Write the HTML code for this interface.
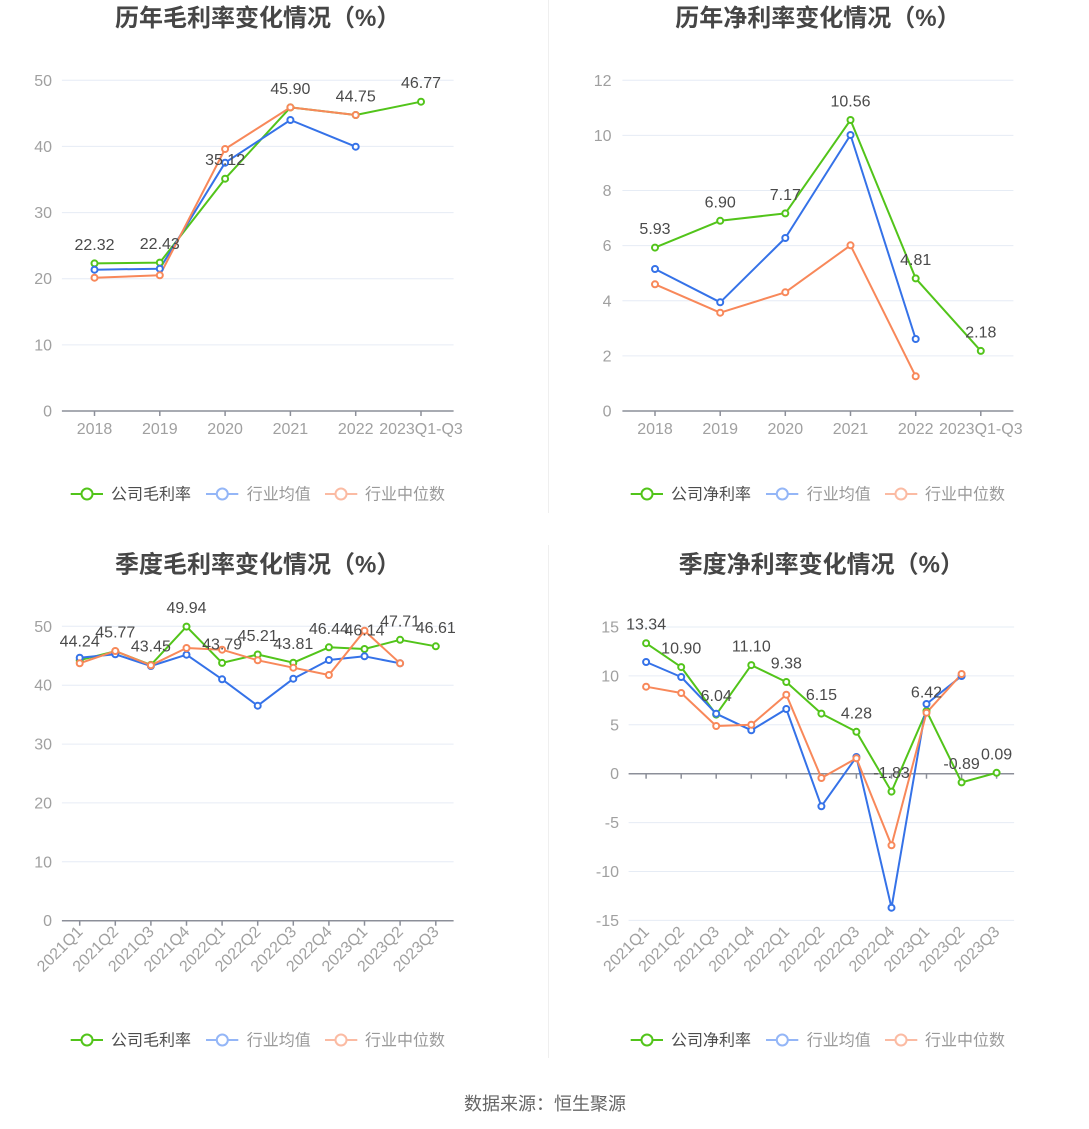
<!DOCTYPE html>
<html><head><meta charset="utf-8"><style>
html,body{margin:0;padding:0;background:#fff;}
svg{display:block;}
text{font-family:"Liberation Sans","Noto Sans CJK SC",sans-serif;}
.t{font-size:24px;font-weight:bold;fill:#464646;text-anchor:middle;}
.yl{font-size:16px;fill:#a0a0a0;text-anchor:end;}
.xl{font-size:16px;fill:#a0a0a0;text-anchor:middle;}
.xr{font-size:16px;fill:#a0a0a0;text-anchor:end;}
.dl{font-size:16px;fill:#4a4a4a;text-anchor:middle;}
.lg{font-size:16px;}
.g{stroke:#e6ecf5;stroke-width:1;}
.ax{stroke:#8c8f99;stroke-width:1.5;}
.sg{fill:none;stroke:#52c41a;stroke-width:2;stroke-linejoin:round;}
.sb{fill:none;stroke:#3572e8;stroke-width:2;stroke-linejoin:round;}
.so{fill:none;stroke:#f8885a;stroke-width:2;stroke-linejoin:round;}
.pg circle{fill:#fff;stroke:#52c41a;stroke-width:2;}
.pb circle{fill:#fff;stroke:#3572e8;stroke-width:2;}
.po circle{fill:#fff;stroke:#f8885a;stroke-width:2;}
</style></head><body>
<svg width="1089" height="1129" viewBox="0 0 1089 1129" xmlns="http://www.w3.org/2000/svg">
<rect width="1089" height="1129" fill="#fff"/>
<line x1="548.5" y1="0" x2="548.5" y2="513" stroke="#efefef" stroke-width="1"/>
<line x1="548.5" y1="545" x2="548.5" y2="1058" stroke="#efefef" stroke-width="1"/>

<!-- ========== TOP LEFT ========== -->
<text class="t" x="257.7" y="26">历年毛利率变化情况（%）</text>
<g>
<line class="g" x1="61.9" y1="80.3" x2="453.6" y2="80.3"/>
<line class="g" x1="61.9" y1="146.4" x2="453.6" y2="146.4"/>
<line class="g" x1="61.9" y1="212.6" x2="453.6" y2="212.6"/>
<line class="g" x1="61.9" y1="278.7" x2="453.6" y2="278.7"/>
<line class="g" x1="61.9" y1="344.9" x2="453.6" y2="344.9"/>
<line class="ax" x1="61.9" y1="411" x2="453.6" y2="411"/>
<g class="ax">
<line x1="94.5" y1="411" x2="94.5" y2="416"/><line x1="159.8" y1="411" x2="159.8" y2="416"/><line x1="225.1" y1="411" x2="225.1" y2="416"/><line x1="290.4" y1="411" x2="290.4" y2="416"/><line x1="355.7" y1="411" x2="355.7" y2="416"/><line x1="421" y1="411" x2="421" y2="416"/>
</g>
<text class="yl" x="52" y="416.5">0</text>
<text class="yl" x="52" y="350.4">10</text>
<text class="yl" x="52" y="284.2">20</text>
<text class="yl" x="52" y="218.1">30</text>
<text class="yl" x="52" y="151.9">40</text>
<text class="yl" x="52" y="85.8">50</text>
<text class="xl" x="94.5" y="434">2018</text>
<text class="xl" x="159.8" y="434">2019</text>
<text class="xl" x="225.1" y="434">2020</text>
<text class="xl" x="290.4" y="434">2021</text>
<text class="xl" x="355.7" y="434">2022</text>
<text class="xl" x="421" y="434">2023Q1-Q3</text>
<polyline class="sg" points="94.5,263.4 159.8,262.6 225.1,178.7 290.4,107.4 355.7,115.0 421.0,101.7"/>
<polyline class="sb" points="94.5,269.7 159.8,268.7 225.1,162.7 290.4,120.0 355.7,146.7"/>
<polyline class="so" points="94.5,277.7 159.8,275.3 225.1,149.0 290.4,107.4 355.7,115.0"/>
<g class="pg"><circle cx="94.5" cy="263.4" r="3"/><circle cx="159.8" cy="262.6" r="3"/><circle cx="225.1" cy="178.7" r="3"/><circle cx="290.4" cy="107.4" r="3"/><circle cx="355.7" cy="115" r="3"/><circle cx="421" cy="101.7" r="3"/></g>
<g class="pb"><circle cx="94.5" cy="269.7" r="3"/><circle cx="159.8" cy="268.7" r="3"/><circle cx="225.1" cy="162.7" r="3"/><circle cx="290.4" cy="120" r="3"/><circle cx="355.7" cy="146.7" r="3"/></g>
<g class="po"><circle cx="94.5" cy="277.7" r="3"/><circle cx="159.8" cy="275.3" r="3"/><circle cx="225.1" cy="149" r="3"/><circle cx="290.4" cy="107.4" r="3"/><circle cx="355.7" cy="115" r="3"/></g>
<text class="dl" x="94.5" y="249.9">22.32</text>
<text class="dl" x="159.8" y="249.1">22.43</text>
<text class="dl" x="225.1" y="165.2">35.12</text>
<text class="dl" x="290.4" y="93.9">45.90</text>
<text class="dl" x="355.7" y="101.5">44.75</text>
<text class="dl" x="421" y="88.2">46.77</text>
<!-- legend -->
<line x1="70.7" y1="494" x2="103" y2="494" stroke="#52c41a" stroke-width="2"/><circle cx="87" cy="494" r="5.5" fill="#fff" stroke="#52c41a" stroke-width="2"/>
<text class="lg" x="111" y="499.5" fill="#4d4d4d">公司毛利率</text>
<line x1="206" y1="494" x2="238.3" y2="494" stroke="#94b6f7" stroke-width="2"/><circle cx="222.3" cy="494" r="5.5" fill="#fff" stroke="#94b6f7" stroke-width="2"/>
<text class="lg" x="246.7" y="499.5" fill="#999">行业均值</text>
<line x1="325" y1="494" x2="357.3" y2="494" stroke="#fbbba3" stroke-width="2"/><circle cx="341" cy="494" r="5.5" fill="#fff" stroke="#fbbba3" stroke-width="2"/>
<text class="lg" x="365" y="499.5" fill="#999">行业中位数</text>
</g>

<!-- ========== TOP RIGHT ========== -->
<text class="t" x="817.9" y="26">历年净利率变化情况（%）</text>
<g>
<line class="g" x1="622.4" y1="80.3" x2="1013.4" y2="80.3"/>
<line class="g" x1="622.4" y1="135.4" x2="1013.4" y2="135.4"/>
<line class="g" x1="622.4" y1="190.5" x2="1013.4" y2="190.5"/>
<line class="g" x1="622.4" y1="245.6" x2="1013.4" y2="245.6"/>
<line class="g" x1="622.4" y1="300.8" x2="1013.4" y2="300.8"/>
<line class="g" x1="622.4" y1="355.9" x2="1013.4" y2="355.9"/>
<line class="ax" x1="622.4" y1="411" x2="1013.4" y2="411"/>
<g class="ax">
<line x1="655" y1="411" x2="655" y2="416"/><line x1="720.2" y1="411" x2="720.2" y2="416"/><line x1="785.3" y1="411" x2="785.3" y2="416"/><line x1="850.5" y1="411" x2="850.5" y2="416"/><line x1="915.7" y1="411" x2="915.7" y2="416"/><line x1="980.8" y1="411" x2="980.8" y2="416"/>
</g>
<text class="yl" x="611.5" y="416.5">0</text>
<text class="yl" x="611.5" y="361.4">2</text>
<text class="yl" x="611.5" y="306.3">4</text>
<text class="yl" x="611.5" y="251.1">6</text>
<text class="yl" x="611.5" y="196">8</text>
<text class="yl" x="611.5" y="140.9">10</text>
<text class="yl" x="611.5" y="85.8">12</text>
<text class="xl" x="655" y="434">2018</text>
<text class="xl" x="720.2" y="434">2019</text>
<text class="xl" x="785.3" y="434">2020</text>
<text class="xl" x="850.5" y="434">2021</text>
<text class="xl" x="915.7" y="434">2022</text>
<text class="xl" x="980.8" y="434">2023Q1-Q3</text>
<polyline class="sg" points="655,247.6 720.2,220.8 785.3,213.4 850.5,120.0 915.7,278.4 980.8,350.9"/>
<polyline class="sb" points="655,269 720.2,302.3 785.3,238 850.5,135 915.7,339"/>
<polyline class="so" points="655,284.3 720.2,312.7 785.3,292.3 850.5,245.3 915.7,376.3"/>
<g class="pg"><circle cx="655" cy="247.6" r="3"/><circle cx="720.2" cy="220.8" r="3"/><circle cx="785.3" cy="213.4" r="3"/><circle cx="850.5" cy="120" r="3"/><circle cx="915.7" cy="278.4" r="3"/><circle cx="980.8" cy="350.9" r="3"/></g>
<g class="pb"><circle cx="655" cy="269" r="3"/><circle cx="720.2" cy="302.3" r="3"/><circle cx="785.3" cy="238" r="3"/><circle cx="850.5" cy="135" r="3"/><circle cx="915.7" cy="339" r="3"/></g>
<g class="po"><circle cx="655" cy="284.3" r="3"/><circle cx="720.2" cy="312.7" r="3"/><circle cx="785.3" cy="292.3" r="3"/><circle cx="850.5" cy="245.3" r="3"/><circle cx="915.7" cy="376.3" r="3"/></g>
<text class="dl" x="655" y="234.1">5.93</text>
<text class="dl" x="720.2" y="207.3">6.90</text>
<text class="dl" x="785.3" y="199.9">7.17</text>
<text class="dl" x="850.5" y="106.5">10.56</text>
<text class="dl" x="915.7" y="264.9">4.81</text>
<text class="dl" x="980.8" y="337.4">2.18</text>
<line x1="630.7" y1="494" x2="663" y2="494" stroke="#52c41a" stroke-width="2"/><circle cx="647" cy="494" r="5.5" fill="#fff" stroke="#52c41a" stroke-width="2"/>
<text class="lg" x="671" y="499.5" fill="#4d4d4d">公司净利率</text>
<line x1="766" y1="494" x2="798.3" y2="494" stroke="#94b6f7" stroke-width="2"/><circle cx="782.3" cy="494" r="5.5" fill="#fff" stroke="#94b6f7" stroke-width="2"/>
<text class="lg" x="806.7" y="499.5" fill="#999">行业均值</text>
<line x1="885" y1="494" x2="917.3" y2="494" stroke="#fbbba3" stroke-width="2"/><circle cx="901" cy="494" r="5.5" fill="#fff" stroke="#fbbba3" stroke-width="2"/>
<text class="lg" x="925" y="499.5" fill="#999">行业中位数</text>
</g>

<!-- ========== BOTTOM LEFT ========== -->
<text class="t" x="257.7" y="572.5">季度毛利率变化情况（%）</text>
<g>
<line class="g" x1="61.9" y1="626.3" x2="453.6" y2="626.3"/>
<line class="g" x1="61.9" y1="685.2" x2="453.6" y2="685.2"/>
<line class="g" x1="61.9" y1="744.1" x2="453.6" y2="744.1"/>
<line class="g" x1="61.9" y1="802.9" x2="453.6" y2="802.9"/>
<line class="g" x1="61.9" y1="861.8" x2="453.6" y2="861.8"/>
<line class="ax" x1="61.9" y1="920.7" x2="453.6" y2="920.7"/>
<g class="ax">
<line x1="79.7" y1="920.7" x2="79.7" y2="925.7"/><line x1="115.3" y1="920.7" x2="115.3" y2="925.7"/><line x1="150.9" y1="920.7" x2="150.9" y2="925.7"/><line x1="186.5" y1="920.7" x2="186.5" y2="925.7"/><line x1="222.1" y1="920.7" x2="222.1" y2="925.7"/><line x1="257.7" y1="920.7" x2="257.7" y2="925.7"/><line x1="293.3" y1="920.7" x2="293.3" y2="925.7"/><line x1="328.9" y1="920.7" x2="328.9" y2="925.7"/><line x1="364.5" y1="920.7" x2="364.5" y2="925.7"/><line x1="400.1" y1="920.7" x2="400.1" y2="925.7"/><line x1="435.8" y1="920.7" x2="435.8" y2="925.7"/>
</g>
<text class="yl" x="52" y="926.2">0</text>
<text class="yl" x="52" y="867.3">10</text>
<text class="yl" x="52" y="808.4">20</text>
<text class="yl" x="52" y="749.6">30</text>
<text class="yl" x="52" y="690.7">40</text>
<text class="yl" x="52" y="631.8">50</text>
<g>
<text class="xr" transform="translate(79.7,928.7) rotate(-45)" dy="0.35em">2021Q1</text>
<text class="xr" transform="translate(115.3,928.7) rotate(-45)" dy="0.35em">2021Q2</text>
<text class="xr" transform="translate(150.9,928.7) rotate(-45)" dy="0.35em">2021Q3</text>
<text class="xr" transform="translate(186.5,928.7) rotate(-45)" dy="0.35em">2021Q4</text>
<text class="xr" transform="translate(222.1,928.7) rotate(-45)" dy="0.35em">2022Q1</text>
<text class="xr" transform="translate(257.7,928.7) rotate(-45)" dy="0.35em">2022Q2</text>
<text class="xr" transform="translate(293.3,928.7) rotate(-45)" dy="0.35em">2022Q3</text>
<text class="xr" transform="translate(328.9,928.7) rotate(-45)" dy="0.35em">2022Q4</text>
<text class="xr" transform="translate(364.5,928.7) rotate(-45)" dy="0.35em">2023Q1</text>
<text class="xr" transform="translate(400.1,928.7) rotate(-45)" dy="0.35em">2023Q2</text>
<text class="xr" transform="translate(435.8,928.7) rotate(-45)" dy="0.35em">2023Q3</text>
</g>
<polyline class="sg" points="79.7,660.2 115.3,651.2 150.9,664.9 186.5,626.6 222.1,662.9 257.7,654.5 293.3,662.7 328.9,647.3 364.5,649.0 400.1,639.8 435.8,646.3"/>
<polyline class="sb" points="79.7,657.7 115.3,654.3 150.9,666 186.5,654.7 222.1,679.3 257.7,705.7 293.3,678.7 328.9,660 364.5,656.3 400.1,663.3"/>
<polyline class="so" points="79.7,663.3 115.3,651 150.9,665.3 186.5,648 222.1,649.7 257.7,660.3 293.3,667.7 328.9,675 364.5,630.7 400.1,663.3"/>
<g class="pg"><circle cx="79.7" cy="660.2" r="3"/><circle cx="115.3" cy="651.2" r="3"/><circle cx="150.9" cy="664.9" r="3"/><circle cx="186.5" cy="626.6" r="3"/><circle cx="222.1" cy="662.9" r="3"/><circle cx="257.7" cy="654.5" r="3"/><circle cx="293.3" cy="662.7" r="3"/><circle cx="328.9" cy="647.3" r="3"/><circle cx="364.5" cy="649" r="3"/><circle cx="400.1" cy="639.8" r="3"/><circle cx="435.8" cy="646.3" r="3"/></g>
<g class="pb"><circle cx="79.7" cy="657.7" r="3"/><circle cx="115.3" cy="654.3" r="3"/><circle cx="150.9" cy="666" r="3"/><circle cx="186.5" cy="654.7" r="3"/><circle cx="222.1" cy="679.3" r="3"/><circle cx="257.7" cy="705.7" r="3"/><circle cx="293.3" cy="678.7" r="3"/><circle cx="328.9" cy="660" r="3"/><circle cx="364.5" cy="656.3" r="3"/><circle cx="400.1" cy="663.3" r="3"/></g>
<g class="po"><circle cx="79.7" cy="663.3" r="3"/><circle cx="115.3" cy="651" r="3"/><circle cx="150.9" cy="665.3" r="3"/><circle cx="186.5" cy="648" r="3"/><circle cx="222.1" cy="649.7" r="3"/><circle cx="257.7" cy="660.3" r="3"/><circle cx="293.3" cy="667.7" r="3"/><circle cx="328.9" cy="675" r="3"/><circle cx="364.5" cy="630.7" r="3"/><circle cx="400.1" cy="663.3" r="3"/></g>
<text class="dl" x="79.7" y="646.7">44.24</text>
<text class="dl" x="115.3" y="637.7">45.77</text>
<text class="dl" x="150.9" y="651.4">43.45</text>
<text class="dl" x="186.5" y="613.1">49.94</text>
<text class="dl" x="222.1" y="649.4">43.79</text>
<text class="dl" x="257.7" y="641">45.21</text>
<text class="dl" x="293.3" y="649.2">43.81</text>
<text class="dl" x="328.9" y="633.8">46.44</text>
<text class="dl" x="364.5" y="635.5">46.14</text>
<text class="dl" x="400.1" y="626.3">47.71</text>
<text class="dl" x="435.8" y="632.8">46.61</text>
<line x1="70.7" y1="1040" x2="103" y2="1040" stroke="#52c41a" stroke-width="2"/><circle cx="87" cy="1040" r="5.5" fill="#fff" stroke="#52c41a" stroke-width="2"/>
<text class="lg" x="111" y="1045.5" fill="#4d4d4d">公司毛利率</text>
<line x1="206" y1="1040" x2="238.3" y2="1040" stroke="#94b6f7" stroke-width="2"/><circle cx="222.3" cy="1040" r="5.5" fill="#fff" stroke="#94b6f7" stroke-width="2"/>
<text class="lg" x="246.7" y="1045.5" fill="#999">行业均值</text>
<line x1="325" y1="1040" x2="357.3" y2="1040" stroke="#fbbba3" stroke-width="2"/><circle cx="341" cy="1040" r="5.5" fill="#fff" stroke="#fbbba3" stroke-width="2"/>
<text class="lg" x="365" y="1045.5" fill="#999">行业中位数</text>
</g>

<!-- ========== BOTTOM RIGHT ========== -->
<text class="t" x="821.3" y="572.5">季度净利率变化情况（%）</text>
<g>
<line class="g" x1="628.6" y1="627.0" x2="1014.1" y2="627.0"/>
<line class="g" x1="628.6" y1="675.9" x2="1014.1" y2="675.9"/>
<line class="g" x1="628.6" y1="724.8" x2="1014.1" y2="724.8"/>
<line class="g" x1="628.6" y1="822.6" x2="1014.1" y2="822.6"/>
<line class="g" x1="628.6" y1="871.5" x2="1014.1" y2="871.5"/>
<line class="g" x1="628.6" y1="920.4" x2="1014.1" y2="920.4"/>
<line class="ax" x1="628.6" y1="773.7" x2="1014.1" y2="773.7"/>
<g class="ax">
<line x1="646.1" y1="773.7" x2="646.1" y2="778.7"/><line x1="681.2" y1="773.7" x2="681.2" y2="778.7"/><line x1="716.2" y1="773.7" x2="716.2" y2="778.7"/><line x1="751.3" y1="773.7" x2="751.3" y2="778.7"/><line x1="786.3" y1="773.7" x2="786.3" y2="778.7"/><line x1="821.4" y1="773.7" x2="821.4" y2="778.7"/><line x1="856.4" y1="773.7" x2="856.4" y2="778.7"/><line x1="891.5" y1="773.7" x2="891.5" y2="778.7"/><line x1="926.5" y1="773.7" x2="926.5" y2="778.7"/><line x1="961.6" y1="773.7" x2="961.6" y2="778.7"/><line x1="996.6" y1="773.7" x2="996.6" y2="778.7"/>
</g>
<text class="yl" x="619" y="632.5">15</text>
<text class="yl" x="619" y="681.4">10</text>
<text class="yl" x="619" y="730.3">5</text>
<text class="yl" x="619" y="779.2">0</text>
<text class="yl" x="619" y="828.1">-5</text>
<text class="yl" x="619" y="877">-10</text>
<text class="yl" x="619" y="925.9">-15</text>
<g>
<text class="xr" transform="translate(646.1,928.7) rotate(-45)" dy="0.35em">2021Q1</text>
<text class="xr" transform="translate(681.2,928.7) rotate(-45)" dy="0.35em">2021Q2</text>
<text class="xr" transform="translate(716.2,928.7) rotate(-45)" dy="0.35em">2021Q3</text>
<text class="xr" transform="translate(751.3,928.7) rotate(-45)" dy="0.35em">2021Q4</text>
<text class="xr" transform="translate(786.3,928.7) rotate(-45)" dy="0.35em">2022Q1</text>
<text class="xr" transform="translate(821.4,928.7) rotate(-45)" dy="0.35em">2022Q2</text>
<text class="xr" transform="translate(856.4,928.7) rotate(-45)" dy="0.35em">2022Q3</text>
<text class="xr" transform="translate(891.5,928.7) rotate(-45)" dy="0.35em">2022Q4</text>
<text class="xr" transform="translate(926.5,928.7) rotate(-45)" dy="0.35em">2023Q1</text>
<text class="xr" transform="translate(961.6,928.7) rotate(-45)" dy="0.35em">2023Q2</text>
<text class="xr" transform="translate(996.6,928.7) rotate(-45)" dy="0.35em">2023Q3</text>
</g>
<polyline class="sg" points="646.1,643.2 681.2,667.1 716.2,714.6 751.3,665.1 786.3,682.0 821.4,713.6 856.4,731.8 891.5,791.6 926.5,710.9 961.6,782.4 996.6,772.8"/>
<polyline class="sb" points="646.1,662 681.2,677 716.2,713.7 751.3,730.3 786.3,709 821.4,806.3 856.4,757 891.5,907.7 926.5,704 961.6,676"/>
<polyline class="so" points="646.1,686.7 681.2,693 716.2,726 751.3,724.7 786.3,694.7 821.4,778 856.4,758.3 891.5,845.3 926.5,712.7 961.6,674"/>
<g class="pg"><circle cx="646.1" cy="643.2" r="3"/><circle cx="681.2" cy="667.1" r="3"/><circle cx="716.2" cy="714.6" r="3"/><circle cx="751.3" cy="665.1" r="3"/><circle cx="786.3" cy="682" r="3"/><circle cx="821.4" cy="713.6" r="3"/><circle cx="856.4" cy="731.8" r="3"/><circle cx="891.5" cy="791.6" r="3"/><circle cx="926.5" cy="710.9" r="3"/><circle cx="961.6" cy="782.4" r="3"/><circle cx="996.6" cy="772.8" r="3"/></g>
<g class="pb"><circle cx="646.1" cy="662" r="3"/><circle cx="681.2" cy="677" r="3"/><circle cx="716.2" cy="713.7" r="3"/><circle cx="751.3" cy="730.3" r="3"/><circle cx="786.3" cy="709" r="3"/><circle cx="821.4" cy="806.3" r="3"/><circle cx="856.4" cy="757" r="3"/><circle cx="891.5" cy="907.7" r="3"/><circle cx="926.5" cy="704" r="3"/><circle cx="961.6" cy="676" r="3"/></g>
<g class="po"><circle cx="646.1" cy="686.7" r="3"/><circle cx="681.2" cy="693" r="3"/><circle cx="716.2" cy="726" r="3"/><circle cx="751.3" cy="724.7" r="3"/><circle cx="786.3" cy="694.7" r="3"/><circle cx="821.4" cy="778" r="3"/><circle cx="856.4" cy="758.3" r="3"/><circle cx="891.5" cy="845.3" r="3"/><circle cx="926.5" cy="712.7" r="3"/><circle cx="961.6" cy="674" r="3"/></g>
<text class="dl" x="646.1" y="629.7">13.34</text>
<text class="dl" x="681.2" y="653.6">10.90</text>
<text class="dl" x="716.2" y="701.1">6.04</text>
<text class="dl" x="751.3" y="651.6">11.10</text>
<text class="dl" x="786.3" y="668.5">9.38</text>
<text class="dl" x="821.4" y="700.1">6.15</text>
<text class="dl" x="856.4" y="718.3">4.28</text>
<text class="dl" x="891.5" y="778.1">-1.83</text>
<text class="dl" x="926.5" y="697.4">6.42</text>
<text class="dl" x="961.6" y="768.9">-0.89</text>
<text class="dl" x="996.6" y="759.3">0.09</text>
<line x1="630.7" y1="1040" x2="663" y2="1040" stroke="#52c41a" stroke-width="2"/><circle cx="647" cy="1040" r="5.5" fill="#fff" stroke="#52c41a" stroke-width="2"/>
<text class="lg" x="671" y="1045.5" fill="#4d4d4d">公司净利率</text>
<line x1="766" y1="1040" x2="798.3" y2="1040" stroke="#94b6f7" stroke-width="2"/><circle cx="782.3" cy="1040" r="5.5" fill="#fff" stroke="#94b6f7" stroke-width="2"/>
<text class="lg" x="806.7" y="1045.5" fill="#999">行业均值</text>
<line x1="885" y1="1040" x2="917.3" y2="1040" stroke="#fbbba3" stroke-width="2"/><circle cx="901" cy="1040" r="5.5" fill="#fff" stroke="#fbbba3" stroke-width="2"/>
<text class="lg" x="925" y="1045.5" fill="#999">行业中位数</text>
</g>

<text x="545" y="1110" style="font-size:18px;fill:#666;text-anchor:middle;">数据来源：恒生聚源</text>
</svg>
</body></html>
